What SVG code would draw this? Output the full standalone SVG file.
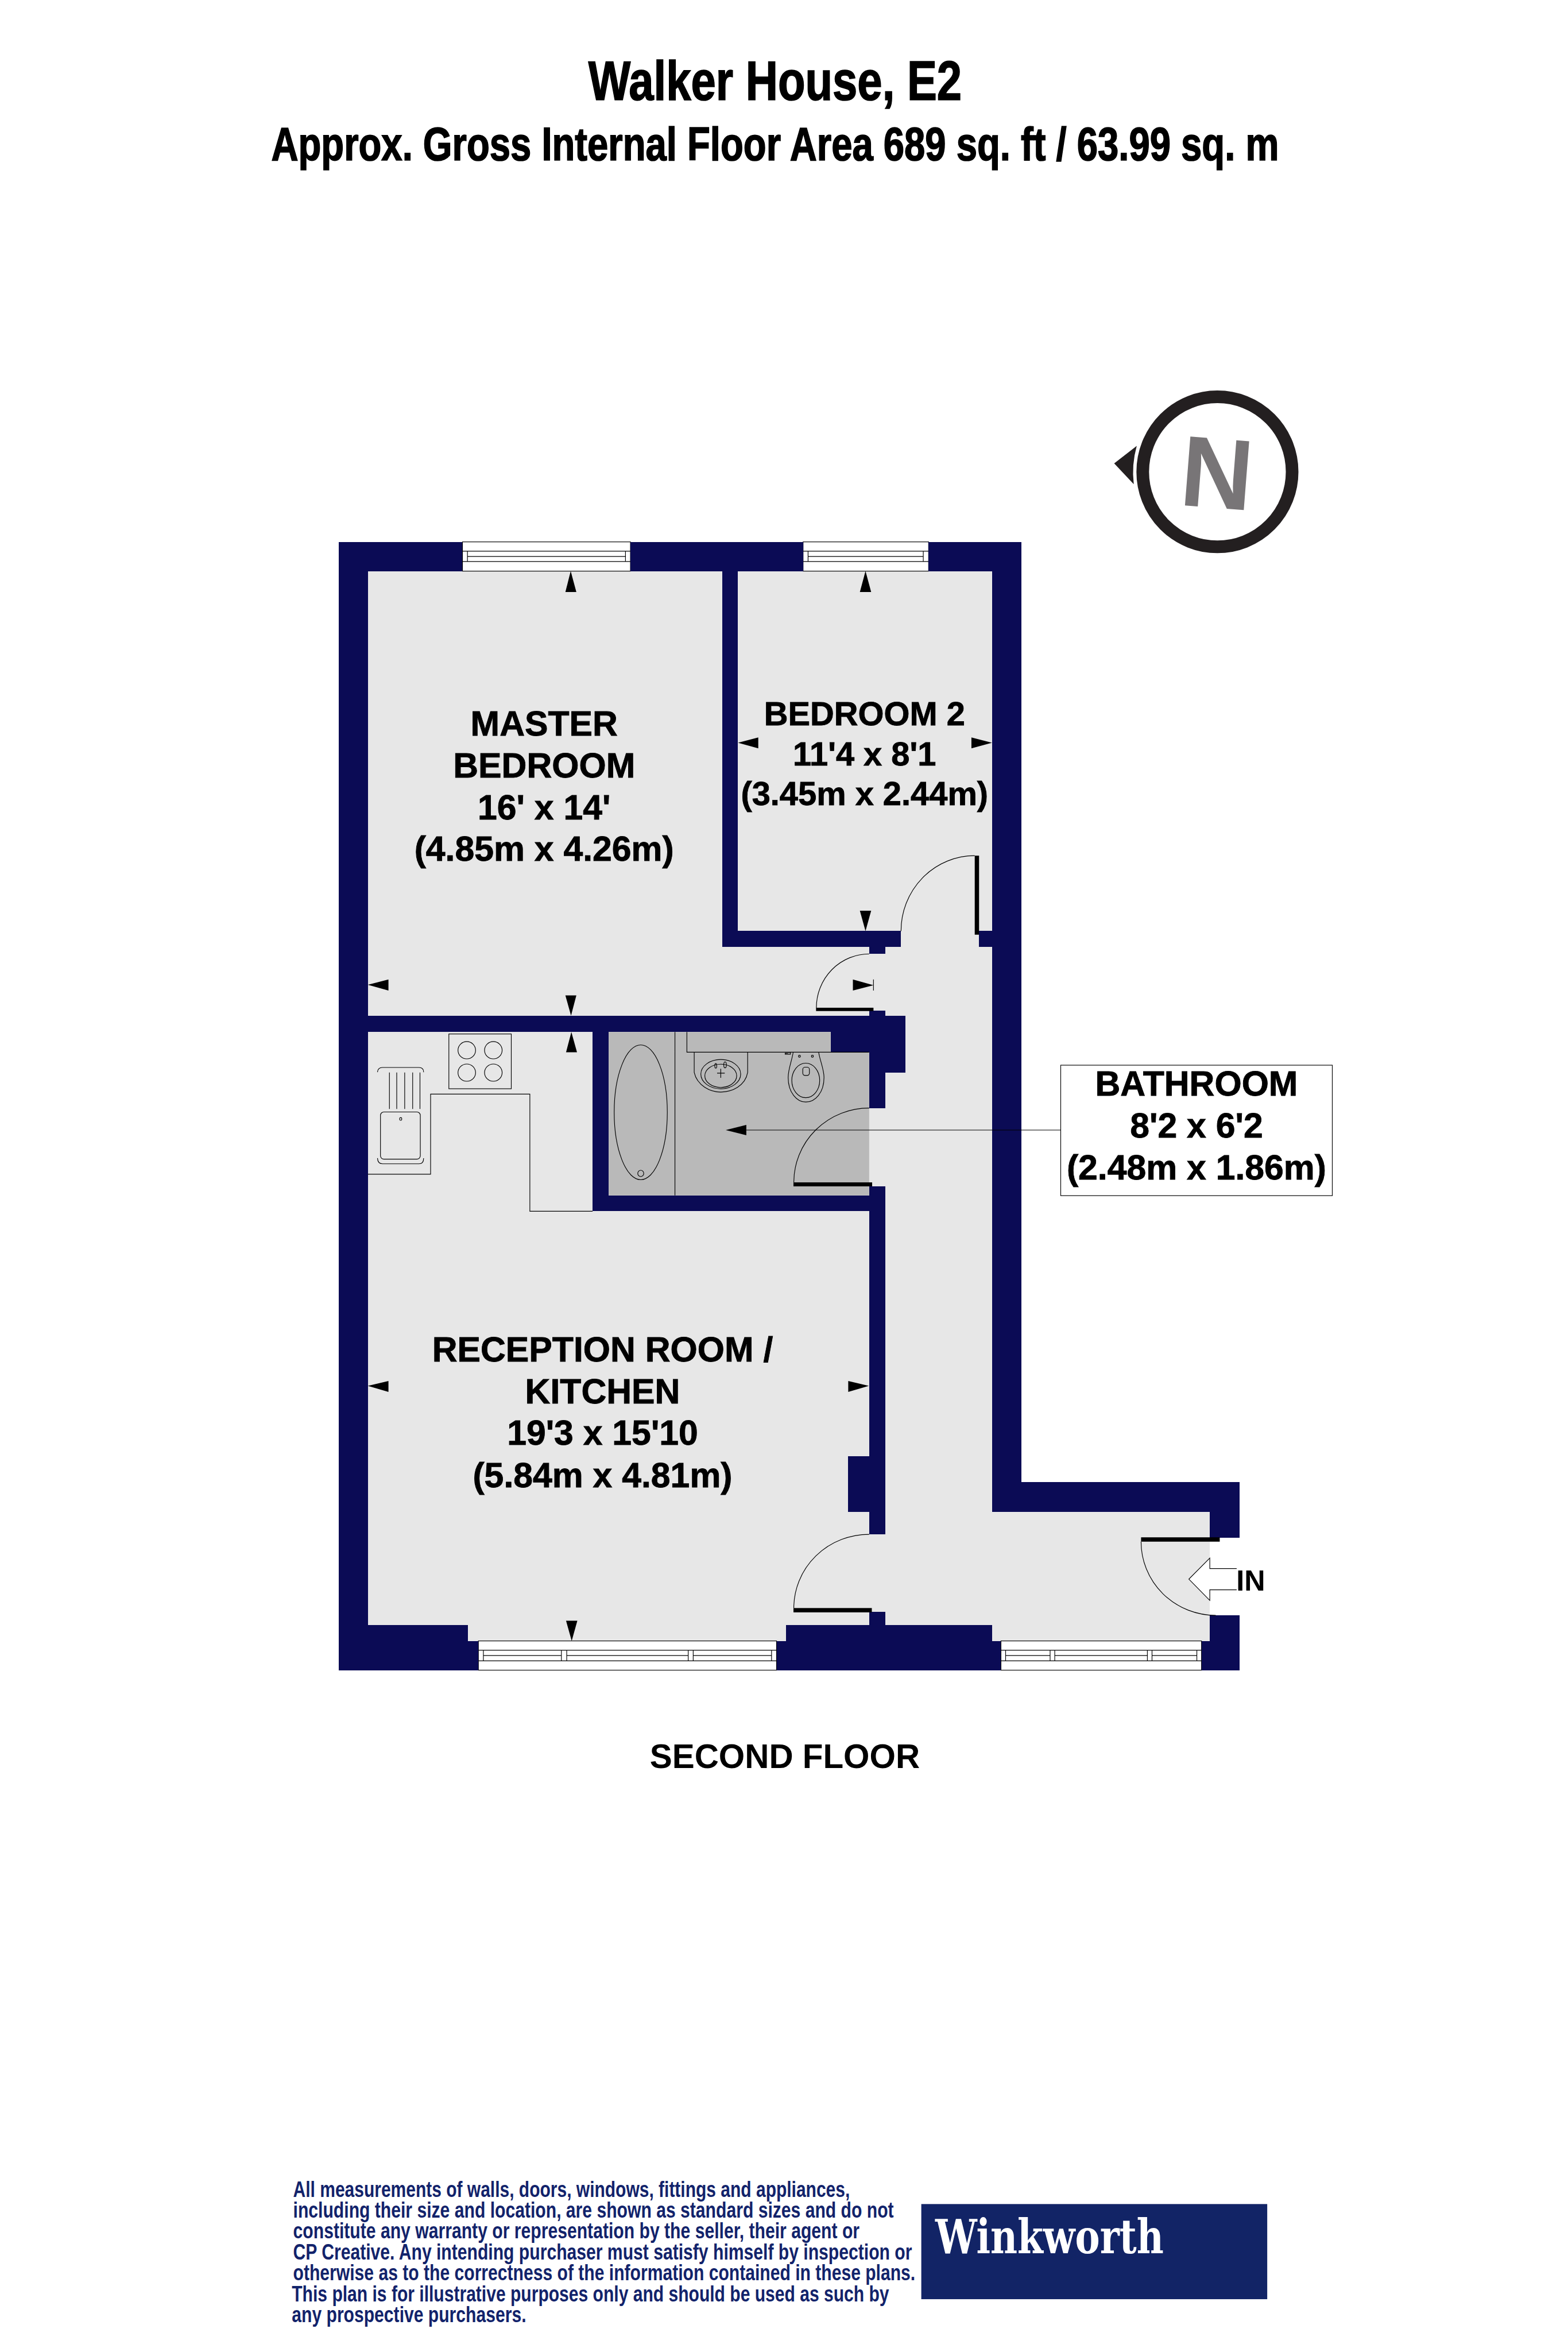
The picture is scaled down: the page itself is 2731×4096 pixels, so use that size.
<svg xmlns="http://www.w3.org/2000/svg" width="2731" height="4096" viewBox="0 0 2731 4096">
<style>
.w{fill:#0b0b55;shape-rendering:crispEdges}
.ln{fill:none;stroke:#000;stroke-width:2}
.win{fill:#fff;stroke:#000;stroke-width:2}
.bar{fill:#000}
.ar{fill:#000}
text{font-family:"Liberation Sans",Arial,sans-serif;font-weight:700;fill:#000}
.r{font-size:105px;text-anchor:middle;stroke:#000;stroke-width:1.5}
.b2{font-size:100px;text-anchor:middle;stroke:#000;stroke-width:1.5}
.t{stroke:#000;stroke-width:3}
.note{font-size:68px;fill:#12236b}
</style>
<rect width="2731" height="4096" fill="#fff"/>
<g transform="scale(0.57824)">
<g id="title">
<text class="t" x="1772" y="301" font-size="168" textLength="1125" lengthAdjust="spacingAndGlyphs">Walker House, E2</text>
<text class="t" x="817" y="482" font-size="140" textLength="3035" lengthAdjust="spacingAndGlyphs">Approx. Gross Internal Floor Area 689 sq. ft / 63.99 sq. m</text>
</g>
<g id="compass">
<ellipse cx="3667" cy="1421" rx="225" ry="226" fill="none" stroke="#231f20" stroke-width="38"/>
<path d="M3356 1395.500L3424 1343Q3408 1400 3415 1458.500Z" fill="#231f20"/>
<text transform="translate(3658,1529) rotate(4.5)" font-size="302" text-anchor="middle" style="fill:#787577">N</text>
</g>
<g id="floor">
<path fill="#e7e7e7" d="M1108 1720H2988V4554H3644V4942H1410V4894H1108Z"/>
<path fill="#b9b9b9" d="M1833 3108H2502V3169H2618V3600H1833Z"/>
</g>
<g id="windows">
<g id="window-master">
<rect class="win" x="1393" y="1632" width="506" height="88"/>
<path class="ln" d="M1393 1660H1899M1393 1691H1899M1408 1676H1884M1408 1660V1691M1884 1660V1691"/>
</g>
<g id="window-bed2">
<rect class="win" x="2419" y="1632" width="378" height="88"/>
<path class="ln" d="M2419 1660H2797M2419 1691H2797M2434 1676H2781M2434 1660V1691M2781 1660V1691"/>
</g>
<g id="window-reception">
<rect class="win" x="1441" y="4942" width="898" height="88"/>
<path class="ln" d="M1441 4970H2339M1441 5002H2339M1456 4986H1691M1707 4986H2073M2088 4986H2324M1456 4970V5002M1691 4970V5002M1707 4970V5002M2073 4970V5002M2088 4970V5002M2324 4970V5002"/>
</g>
<g id="window-hall">
<rect class="win" x="3015" y="4942" width="604" height="88"/>
<path class="ln" d="M3015 4970H3619M3015 5002H3619M3029 4986H3163M3177 4986H3456M3470 4986H3605M3029 4970V5002M3163 4970V5002M3177 4970V5002M3456 4970V5002M3470 4970V5002M3605 4970V5002"/>
</g>
</g>
<g id="walls" class="w">
<rect x="1020" y="1632" width="373" height="88.500"/>
<rect x="1899" y="1632" width="520" height="88.500"/>
<rect x="2797" y="1632" width="280" height="88.500"/>
<rect x="1020" y="1632" width="88" height="3398.500"/>
<rect x="2988" y="1632" width="89" height="2922"/>
<rect x="2988" y="4464" width="746" height="90"/>
<rect x="3644" y="4550" width="90" height="80.500"/>
<rect x="3644" y="4865" width="90" height="85"/>
<rect x="3619" y="4942" width="115" height="88.500"/>
<rect x="1020" y="4942" width="421" height="88.500"/>
<rect x="1020" y="4894" width="390" height="56"/>
<rect x="2339" y="4942" width="676" height="88.500"/>
<rect x="2368" y="4894" width="620" height="56"/>
<rect x="2175" y="1720" width="48" height="1132"/>
<rect x="2175" y="2804" width="539" height="48"/>
<rect x="2618" y="2850" width="48" height="23"/>
<rect x="2948" y="2804" width="44" height="48"/>
<rect x="1104" y="3059" width="1624" height="49"/>
<rect x="2666" y="3059" width="62" height="172"/>
<rect x="2618" y="3044" width="48" height="293"/>
<rect x="2502" y="3106" width="118" height="63"/>
<rect x="1785" y="3106" width="48" height="542"/>
<rect x="1785" y="3600" width="835" height="48"/>
<rect x="2618" y="3573" width="48" height="1048"/>
<rect x="2555" y="4385" width="65" height="169"/>
<rect x="2618" y="4854" width="48" height="44"/>
</g>
<g id="kitchen">
<path class="ln" d="M1108 3536.500H1297V3295H1596V3648H1785"/>
<rect class="ln" x="1352" y="3114" width="188" height="165"/>
<ellipse class="ln" cx="1406" cy="3163" rx="26.500" ry="26"/>
<ellipse class="ln" cx="1486" cy="3163" rx="26.500" ry="26"/>
<ellipse class="ln" cx="1406" cy="3230.500" rx="26.500" ry="26"/>
<ellipse class="ln" cx="1486" cy="3230.500" rx="26.500" ry="26"/>
<path class="ln" d="M1137 3229Q1138 3215 1152 3215H1262Q1276 3215 1276 3229M1173 3230V3340M1195 3230V3340M1219 3230V3340M1243 3230V3340M1265 3230V3340M1137 3488Q1138 3505 1152 3505H1262Q1276 3505 1276 3488"/>
<rect class="ln" x="1146" y="3349" width="120" height="142" rx="10"/>
<rect class="ln" x="1204" y="3366" width="6" height="8" rx="2"/>
</g>
<g id="bathroom-fittings">
<path class="ln" d="M2033 3108V3600M2069 3108V3169H2618"/>
<ellipse class="ln" cx="1930" cy="3350" rx="80" ry="203"/>
<ellipse class="ln" cx="1930" cy="3534" rx="9" ry="9.500"/>
<path class="ln" d="M2091 3169V3230C2100 3270 2140 3289 2171 3289C2205 3289 2245 3270 2252 3230V3169"/>
<ellipse class="ln" cx="2171" cy="3235" rx="60" ry="44"/>
<ellipse class="ln" cx="2171" cy="3240" rx="48" ry="35"/>
<path class="ln" d="M2171 3219V3246M2160 3232H2183"/>
<ellipse class="ln" cx="2156" cy="3210" rx="3" ry="7"/>
<ellipse class="ln" cx="2184" cy="3207" rx="4" ry="9"/>
<path class="ln" d="M2389 3170C2385 3195 2374 3220 2374 3245C2374 3290 2400 3319 2427 3319C2456 3319 2482 3290 2482 3245C2482 3220 2470 3195 2466 3170"/>
<ellipse class="ln" cx="2427" cy="3254" rx="42" ry="52"/>
<rect class="ln" x="2418" y="3214" width="20" height="25" rx="7"/>
<circle class="ln" cx="2408" cy="3181" r="3"/>
<circle class="ln" cx="2447" cy="3181" r="3"/>
<path class="ln" d="M2373 3170H2381V3175H2365V3172H2373"/>
</g>
<g id="doors">
<rect class="bar" x="2936" y="2577" width="13" height="238"/>
<path class="ln" d="M2714 2804A222 227 0 0 1 2936 2577"/>
<rect class="bar" x="2458" y="3035" width="173" height="10"/>
<path class="ln" d="M2618 2873A159 162 0 0 0 2459 3035"/>
<rect class="bar" x="2390" y="3561" width="237" height="12"/>
<path class="ln" d="M2618 3337A227 224 0 0 0 2391 3561"/>
<rect class="bar" x="2390" y="4843" width="236" height="13"/>
<path class="ln" d="M2618 4621A227 222 0 0 0 2391 4843"/>
<rect class="bar" x="3437" y="4630" width="237" height="13"/>
<path class="ln" d="M3437 4643A225 222 0 0 0 3662 4865"/>
</g>
<g id="connectors">
<path class="ln" d="M2248 3403.500H3195"/>
<path class="ln" d="M2631 2950V2983"/>
<g class="ar">
<polygon points="1719,1720 1703,1783 1736,1783"/>
<polygon points="2607,1720 2590,1783 2624,1783"/>
<polygon points="2223,2237 2284,2221 2284,2254"/>
<polygon points="2988,2237 2926,2221 2926,2254"/>
<polygon points="2607,2804 2590,2743 2624,2743"/>
<polygon points="2631,2967 2569,2950 2569,2983"/>
<polygon points="1108,2966 1170,2950 1170,2983"/>
<polygon points="1720,3059 1703,2998 1736,2998"/>
<polygon points="1721,3108 1705,3169 1738,3169"/>
<polygon points="2186,3403.500 2248,3388 2248,3419"/>
<polygon points="1108,4174 1170,4159 1170,4192"/>
<polygon points="2617,4174 2555,4159 2555,4192"/>
<polygon points="1722,4942 1705,4881 1739,4881"/>
</g>
<polygon points="3581,4756 3644,4692.500 3644,4724 3725,4724 3725,4788 3644,4788 3644,4820" fill="#fff" stroke="none"/>
<path class="ln" d="M3725 4724H3644V4692.500L3581 4756L3644 4820V4788H3725"/>
</g>
<g id="label-master">
<text class="r" x="1639" y="2215">MASTER</text>
<text class="r" x="1639" y="2341">BEDROOM</text>
<text class="r" x="1639" y="2467">16' x 14'</text>
<text class="r" x="1639" y="2593">(4.85m x 4.26m)</text>
</g>
<g id="label-bed2">
<text class="b2" x="2604" y="2185">BEDROOM 2</text>
<text class="b2" x="2604" y="2305">11'4 x 8'1</text>
<text class="b2" x="2604" y="2425">(3.45m x 2.44m)</text>
</g>
<g id="label-reception">
<text class="r" x="1815" y="4100">RECEPTION ROOM /</text>
<text class="r" x="1815" y="4226">KITCHEN</text>
<text class="r" x="1815" y="4352">19'3 x 15'10</text>
<text class="r" x="1815" y="4478.500">(5.84m x 4.81m)</text>
</g>
<g id="label-bathroom">
<rect x="3195" y="3208" width="818" height="393" fill="#fff" stroke="#000" stroke-width="2"/>
<text class="r" x="3604" y="3300">BATHROOM</text>
<text class="r" x="3604" y="3426">8'2 x 6'2</text>
<text class="r" x="3604" y="3553">(2.48m x 1.86m)</text>
</g>
<text id="label-in" x="3724" y="4790" font-size="87">IN</text>
<text id="label-floor" x="2364" y="5325" font-size="101" text-anchor="middle">SECOND FLOOR</text>
<g id="disclaimer">
<text class="note" x="883" y="6616" textLength="1677" lengthAdjust="spacingAndGlyphs">All measurements of walls, doors, windows, fittings and appliances,</text>
<text class="note" x="883" y="6678.500" textLength="1809" lengthAdjust="spacingAndGlyphs">including their size and location, are shown as standard sizes and do not</text>
<text class="note" x="883" y="6742" textLength="1706" lengthAdjust="spacingAndGlyphs">constitute any warranty or representation by the seller, their agent or</text>
<text class="note" x="883" y="6804.500" textLength="1864" lengthAdjust="spacingAndGlyphs">CP Creative. Any intending purchaser must satisfy himself by inspection or</text>
<text class="note" x="883" y="6867" textLength="1874" lengthAdjust="spacingAndGlyphs">otherwise as to the correctness of the information contained in these plans.</text>
<text class="note" x="879" y="6931" textLength="1799" lengthAdjust="spacingAndGlyphs">This plan is for illustrative purposes only and should be used as such by</text>
<text class="note" x="879" y="6994.500" textLength="706" lengthAdjust="spacingAndGlyphs">any prospective purchasers.</text>
</g>
<g id="logo">
<rect x="2775" y="6638" width="1042" height="286.500" fill="#122466"/>
<text x="2817" y="6787" font-size="141" textLength="688" lengthAdjust="spacingAndGlyphs" style="font-family:'DejaVu Serif',serif;fill:#fff">Winkworth</text>
</g>
</g>
</svg>
